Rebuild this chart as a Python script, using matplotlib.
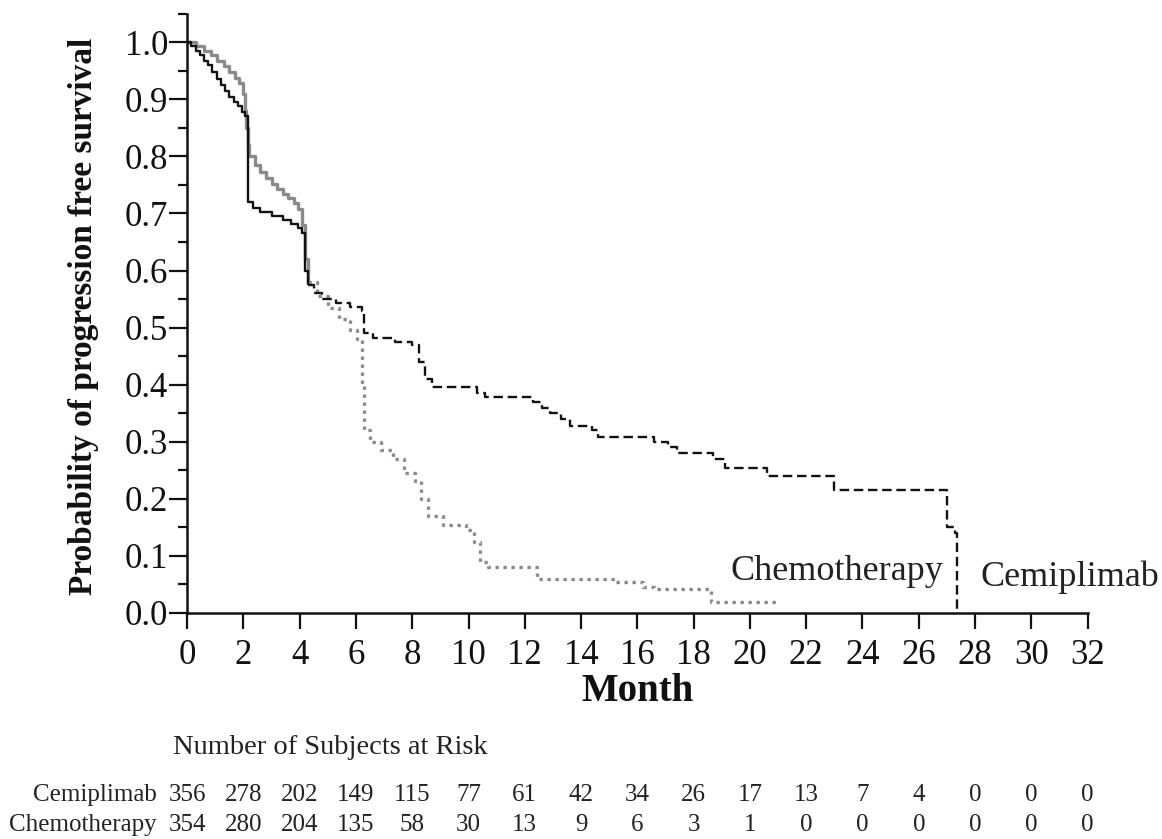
import matplotlib
matplotlib.use("Agg")
import matplotlib.pyplot as plt
from matplotlib.transforms import blended_transform_factory

plt.rcParams['font.family'] = ['Liberation Serif', 'DejaVu Serif']

# Kaplan-Meier estimates (month, survival), step after
cemi_t = [0, 0.15, 0.3, 0.45, 0.6, 0.75, 0.9, 1.05, 1.2, 1.35, 1.5, 1.65, 1.8,
          1.95, 2.05, 2.15, 2.35, 2.6, 3.0, 3.4, 3.7, 3.95, 4.1, 4.2, 4.3,
          4.5, 4.8, 5.3, 5.8, 6.2, 6.3, 6.6, 7.4, 8.0, 8.25, 8.45, 8.7,
          10.3, 10.6, 12.3, 12.6, 12.9, 13.3, 13.6, 14.4, 14.6, 16.6, 17.1,
          17.4, 18.7, 19.1, 20.6, 23.0, 27.0, 27.3, 27.35]
cemi_s = [1.0, 0.993, 0.985, 0.977, 0.968, 0.96, 0.948, 0.936, 0.925, 0.914,
          0.905, 0.896, 0.888, 0.878, 0.87, 0.72, 0.71, 0.703, 0.695, 0.688,
          0.682, 0.675, 0.665, 0.6, 0.575, 0.56, 0.55, 0.543, 0.537, 0.53,
          0.49, 0.482, 0.475, 0.469, 0.44, 0.41, 0.396, 0.385, 0.378, 0.37,
          0.36, 0.35, 0.34, 0.328, 0.32, 0.308, 0.30, 0.29, 0.281, 0.27,
          0.254, 0.24, 0.216, 0.15, 0.14, 0.0]

chemo_t = [0, 0.3, 0.6, 0.85, 1.05, 1.3, 1.5, 1.7, 1.85, 2.0, 2.05, 2.1, 2.15,
           2.2, 2.4, 2.6, 2.8, 3.0, 3.2, 3.4, 3.6, 3.8, 3.95, 4.1, 4.2, 4.3,
           4.6, 5.0, 5.4, 5.8, 6.05, 6.2, 6.3, 6.5, 6.9, 7.3, 7.7, 8.1, 8.3,
           8.55, 9.1, 9.9, 10.2, 10.4, 10.7, 12.45, 15.2, 16.2, 16.6, 18.6,
           21.0]
chemo_s = [1.0, 0.993, 0.985, 0.978, 0.968, 0.958, 0.948, 0.938, 0.928, 0.91,
           0.88, 0.85, 0.82, 0.80, 0.785, 0.773, 0.762, 0.752, 0.743, 0.735,
           0.727, 0.718, 0.708, 0.68, 0.62, 0.58, 0.555, 0.535, 0.515, 0.495,
           0.48, 0.40, 0.32, 0.30, 0.285, 0.27, 0.245, 0.232, 0.20, 0.17,
           0.155, 0.146, 0.125, 0.09, 0.08, 0.06, 0.055, 0.045, 0.042, 0.02,
           0.02]

risk_months = list(range(0, 33, 2))
risk_cemi = [356, 278, 202, 149, 115, 77, 61, 42, 34, 26, 17, 13, 7, 4, 0, 0, 0]
risk_chemo = [354, 280, 204, 135, 58, 30, 13, 9, 6, 3, 1, 0, 0, 0, 0, 0, 0]

BLACK = '#111111'
GREY = '#8a8a8a'
TEXT = '#222222'


def draw_arm(ax, t, s, split, color, lw, dashes):
    """Steep early part solid, the rest with the arm's dash pattern"""
    k = t.index(split)
    ax.step(t[:k + 1], s[:k + 1], where='post', color=color, lw=lw,
            solid_capstyle='butt')
    line, = ax.step(t[k:], s[k:], where='post', color=color, lw=lw,
                    linestyle=(0, dashes))
    line.set_dash_capstyle('butt')


fig = plt.figure(figsize=(11.62, 8.39), dpi=100)
ax = fig.add_axes([0.161, 0.2694, 0.775, 0.7142])

draw_arm(ax, chemo_t, chemo_s, 4.3, GREY, 2.4, (1.0, 1.4))
draw_arm(ax, cemi_t, cemi_s, 4.3, BLACK, 1.7, (4.0, 2.0))

ax.set_xlim(0, 32)
ax.set_ylim(0, 1.05)
ax.set_xticks(range(0, 33, 2))
ax.set_yticks([i / 10 for i in range(11)])
ax.set_yticks([0.05 + i / 10 for i in range(11)], minor=True)
ax.set_yticklabels([f'{i / 10:.1f}' for i in range(11)])
ax.tick_params(axis='both', which='both', labelsize=25, width=1.6,
               direction='out', colors=BLACK)
ax.tick_params(axis='x', length=11.5, pad=7.5)
ax.tick_params(axis='y', which='major', length=13, pad=0.5)
ax.tick_params(axis='y', which='minor', length=6.5)
for side in ('top', 'right'):
    ax.spines[side].set_visible(False)
for side in ('left', 'bottom'):
    ax.spines[side].set_linewidth(1.8)
    ax.spines[side].set_color(BLACK)

ax.set_ylabel('Probability of progression free survival', fontsize=24,
              fontweight='bold', color=BLACK)
ax.yaxis.set_label_coords(-0.098, 0.495)
ax.set_xlabel('Month', fontsize=28, fontweight='bold', color=BLACK)
ax.xaxis.set_label_coords(0.5, -0.1)

ax.text(19.3, 0.072, 'Chemotherapy', fontsize=26, va='center', ha='left',
        color=TEXT)
ax.text(28.2, 0.062, 'Cemiplimab', fontsize=26, va='center', ha='left',
        color=TEXT, clip_on=False)

# number at risk table below the axis
fig.text(0.149, 0.1085, 'Number of Subjects at Risk', fontsize=20.5,
         va='center', ha='left', color=TEXT)
tr = blended_transform_factory(ax.transData, fig.transFigure)
rows = [('Cemiplimab', risk_cemi, 0.0524), ('Chemotherapy', risk_chemo, 0.0167)]
for name, counts, yy in rows:
    ax.text(-1.07, yy, name, transform=tr, ha='right', va='center',
            fontsize=18, color=TEXT)
    for m, n in zip(risk_months, counts):
        ax.text(m, yy, str(n), transform=tr, ha='center', va='center',
                fontsize=18, color=TEXT)

fig.savefig('out.png', dpi=100)
